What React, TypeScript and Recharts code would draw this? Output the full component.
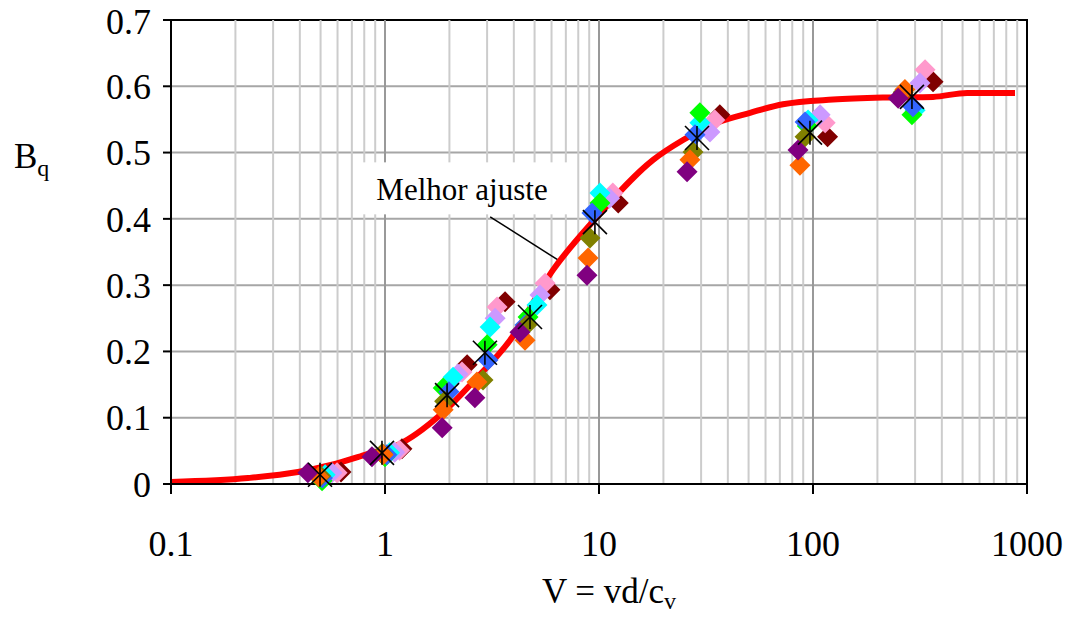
import React from 'react';
import {
  ComposedChart, Line, Scatter, XAxis, YAxis, CartesianGrid,
  ReferenceLine, ReferenceArea, ReferenceDot,
} from 'recharts';

// tick labels
const xTicks = [0.1, 1, 10, 100, 1000];
const yTicks = [0, 0.1, 0.2, 0.3, 0.4, 0.5, 0.6, 0.7];

// best fit curve (Melhor ajuste)
const fitV = [0.1, 0.229, 0.392, 0.565, 0.807, 1.15, 1.81, 2.63, 3.84, 6.1, 9.79, 17.9, 24.7, 35.6, 50.8, 72.4, 124, 212, 364, 525, 879];
const fitBq = [0.003, 0.009, 0.018, 0.029, 0.044, 0.059, 0.104, 0.157, 0.217, 0.323, 0.403, 0.489, 0.519, 0.545, 0.56, 0.573, 0.58, 0.583, 0.584, 0.59, 0.59];

// measured points, one list per series: [V, Bq]
const darkRed = [[0.623, 0.018], [1.2, 0.053], [2.42, 0.18], [3.64, 0.275], [5.9, 0.293], [12.3, 0.424], [36.7, 0.557], [117, 0.524], [364, 0.607]];
const pink = [[0.597, 0.017], [1.17, 0.051], [2.29, 0.169], [3.34, 0.267], [5.6, 0.303], [11.6, 0.439], [34.8, 0.549], [114, 0.545], [334, 0.625]];
const lavender = [[0.565, 0.017], [1.11, 0.048], [2.19, 0.166], [3.27, 0.25], [5.3, 0.285], [11.2, 0.431], [33.0, 0.531], [108, 0.557], [316, 0.605]];
const cyan = [[0.525, 0.014], [1.05, 0.047], [2.08, 0.161], [3.1, 0.237], [5.13, 0.27], [10.1, 0.439], [29.6, 0.545], [94.8, 0.549], [300, 0.564]];
const green = [[0.508, 0.005], [1.0, 0.041], [1.87, 0.145], [3.0, 0.21], [4.66, 0.252], [10.1, 0.424], [29.6, 0.56], [94, 0.54], [290, 0.557]];
const blue = [[0.51, 0.009], [1.02, 0.044], [1.99, 0.139], [3.03, 0.187], [4.51, 0.24], [9.27, 0.409], [28.1, 0.527], [91.8, 0.546], [293, 0.569]];
const olive = [[0.5, 0.012], [0.97, 0.046], [1.9, 0.125], [2.87, 0.157], [4.6, 0.24], [9.08, 0.371], [27.5, 0.501], [91.8, 0.524], [264, 0.591]];
const orange = [[0.49, 0.011], [0.98, 0.044], [1.87, 0.112], [2.69, 0.154], [4.51, 0.217], [8.89, 0.341], [26.6, 0.489], [86.9, 0.481], [269, 0.595]];
const purple = [[0.436, 0.017], [0.869, 0.041], [1.85, 0.085], [2.63, 0.13], [4.27, 0.229], [8.79, 0.315], [25.8, 0.471], [85.1, 0.504], [250, 0.582]];
const star = [[0.497, 0.014], [0.968, 0.047], [1.95, 0.134], [2.93, 0.198], [4.76, 0.252], [9.57, 0.395], [28.7, 0.522], [96.8, 0.53], [290, 0.584]];

const SERIES = [
  { name: 'darkRed', pts: darkRed, color: '#800000' },
  { name: 'pink', pts: pink, color: '#FF99CC' },
  { name: 'lavender', pts: lavender, color: '#CC99FF' },
  { name: 'cyan', pts: cyan, color: '#00FFFF' },
  { name: 'green', pts: green, color: '#00FF00' },
  { name: 'blue', pts: blue, color: '#3366FF' },
  { name: 'olive', pts: olive, color: '#808000' },
  { name: 'orange', pts: orange, color: '#FF6600' },
  { name: 'purple', pts: purple, color: '#800080' },
];

const toRows = (pts: number[][]) => pts.map(([v, bq]) => ({ v, bq }));
const fitData = fitV.map((v, i) => ({ v, bq: fitBq[i] }));

// log grid: 2..9 inside each decade
const minorLines: number[] = [];
for (let d = 0.1; d < 1000; d *= 10) {
  for (let k = 2; k <= 9; k++) minorLines.push(+(d * k).toPrecision(3));
}

const FONT = '"Liberation Serif", "Times New Roman", serif';

const Diamond = (props: any) => {
  const { cx, cy, fill } = props;
  const r = 10.5;
  return <polygon points={`${cx},${cy - r} ${cx + r},${cy} ${cx},${cy + r} ${cx - r},${cy}`} fill={fill} />;
};

const Star = (props: any) => {
  const { cx, cy } = props;
  const r = 12;
  return (
    <g stroke="#000" strokeWidth={1.6}>
      <line x1={cx - r} y1={cy - r} x2={cx + r} y2={cy + r} />
      <line x1={cx - r} y1={cy + r} x2={cx + r} y2={cy - r} />
      <line x1={cx} y1={cy - r} x2={cx} y2={cy + r} />
    </g>
  );
};

const XLabel = () => (
  <text x={609} y={603} textAnchor="middle" fontFamily={FONT} fontSize={35} fill="#000">
    V = vd/c<tspan dy={6} fontSize={24}>v</tspan>
  </text>
);

const YLabel = () => (
  <text x={14} y={168} fontFamily={FONT} fontSize={35} fill="#000">
    B<tspan dy={8} fontSize={24}>q</tspan>
  </text>
);

const NoteLabel = (props: any) => {
  const { viewBox } = props;
  const cx = viewBox.x + viewBox.width / 2;
  const cy = viewBox.y + viewBox.height / 2;
  return (
    <g>
      <rect x={cx - 108} y={cy - 28} width={216} height={52} fill="#fff" />
      <text x={cx} y={cy + 10} textAnchor="middle" fontFamily={FONT} fontSize={31} fill="#000">
        Melhor ajuste
      </text>
    </g>
  );
};

export default function App() {
  return (
    <div style={{ position: 'absolute', left: 0, top: 0, background: '#fff' }}>
      <ComposedChart width={1070} height={617} margin={{ top: 20, right: 43, bottom: 0, left: 0 }}>
        <CartesianGrid vertical={false} stroke="#a6a6a6" strokeWidth={2} />
        {minorLines.map((m) => (
          <ReferenceLine key={`m${m}`} x={m} stroke="#cccccc" strokeWidth={2} />
        ))}
        {xTicks.slice(1, -1).map((t) => (
          <ReferenceLine key={`M${t}`} x={t} stroke="#999999" strokeWidth={2} />
        ))}
        <XAxis
          dataKey="v"
          type="number"
          scale="log"
          domain={[0.1, 1000]}
          ticks={xTicks}
          allowDataOverflow
          height={133}
          tickSize={10}
          tickMargin={36}
          axisLine={{ stroke: '#000', strokeWidth: 2 }}
          tickLine={{ stroke: '#000', strokeWidth: 2 }}
          tick={{ fontFamily: FONT, fontSize: 36, fill: '#000' }}
          tickFormatter={(v) => String(v)}
          label={<XLabel />}
        />
        <YAxis
          dataKey="bq"
          type="number"
          domain={[0, 0.7]}
          ticks={yTicks}
          width={171}
          tickSize={8}
          tickMargin={12}
          axisLine={{ stroke: '#000', strokeWidth: 2 }}
          tickLine={{ stroke: '#000', strokeWidth: 2 }}
          tick={{ fontFamily: FONT, fontSize: 36, fill: '#000' }}
          tickFormatter={(v) => String(v)}
          label={<YLabel />}
        />
        <ReferenceArea x1={0.1} x2={1000} y1={0} y2={0.7} fill="none" stroke="#000" strokeWidth={2} />
        <ReferenceLine segment={[{ x: 3.1, y: 0.403 }, { x: 6.43, y: 0.338 }]} stroke="#000" strokeWidth={1.5} />
        <ReferenceDot x={2.29} y={0.443} r={1} fill="none" stroke="none" label={<NoteLabel />} />
        <Line
          data={fitData}
          dataKey="bq"
          type="monotone"
          stroke="#FF0000"
          strokeWidth={6}
          dot={false}
          isAnimationActive={false}
        />
        {SERIES.map((s) => (
          <Scatter
            key={s.name}
            data={toRows(s.pts)}
            dataKey="bq"
            fill={s.color}
            shape={<Diamond />}
            isAnimationActive={false}
          />
        ))}
        <Scatter data={toRows(star)} dataKey="bq" fill="#000" shape={<Star />} isAnimationActive={false} />
      </ComposedChart>
    </div>
  );
}
